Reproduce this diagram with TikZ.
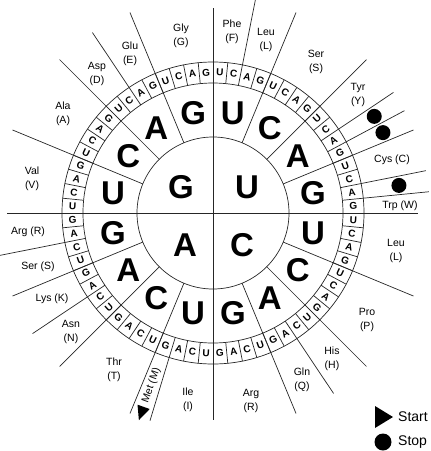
\documentclass[tikz,border=0pt]{standalone}
\usepackage{fontspec}
\setmainfont{Liberation Sans}
\begin{document}
\begin{tikzpicture}[x=1pt,y=-1pt,
  ln/.style={line width=0.7pt, draw=black!85},
  ringl/.style={font=\fontsize{10}{10}\selectfont\bfseries, inner sep=0pt},
  bigl/.style={font=\fontsize{33}{33}\selectfont\bfseries, inner sep=0pt},
  aa/.style={font=\fontsize{10.5}{14.5}\selectfont, align=center, inner sep=0pt},
  legend/.style={font=\fontsize{14}{14}\selectfont, anchor=west, inner sep=0pt}]
\useasboundingbox (0,0) rectangle (431,451);
\coordinate (O) at (213,213);
\draw[ln] (213,8) -- (213,420);
\draw[ln] (7,213) -- (418,213);
\begin{scope}[shift={(213,213)}]
  \draw[ln] (0,0) circle[radius=76pt];
  \draw[ln] (0,0) circle[radius=130pt];
  \draw[ln] (0,0) circle[radius=151pt];
  \foreach \t in {22.5,45,67.5,112.5,135,157.5,202.5,225,247.5,292.5,315,337.5}
    \draw[ln] (\t-90:76) -- (\t-90:217);
  \foreach \t in {11.25,56.25,61.875,78.75,84.375,146.25,196.875,236.25,258.75,326.25}
    \draw[ln] (\t-90:151) -- (\t-90:217);
  \foreach \k in {0,...,63}
    \draw[ln] (\k*5.625-90:130) -- (\k*5.625-90:151);
  \foreach \q in {0,...,15}{
    \foreach \c [count=\j from 0] in {U,C,A,G}{
      \pgfmathsetmacro\th{(4*\q+\j+0.5)*5.625}
      \pgfmathsetmacro\rot{-(\th-90*round(\th/90))}
      \node[ringl, rotate=\rot] (r\q\c) at (\th-90:140.5) {\c};
    }}
  \foreach \c [count=\i from 0] in {U,C,A,G,U,C,A,G,U,C,A,G,U,C,A,G}
    \node[bigl] (m\i) at (\i*22.5+11.25-90:102) {\c};
  \node[bigl] (cG) at (-32,-26) {G};
  \node[bigl] (cU) at (34,-26) {U};
  \node[bigl] (cA) at (-28,32) {A};
  \node[bigl] (cC) at (29,32) {C};
  \fill (59.0625-90:188) circle[radius=7.5pt];
  \fill (64.6875-90:188) circle[radius=7.5pt];
  \fill (81.5625-90:188) circle[radius=7.5pt];
  \node[font=\fontsize{10.5}{10.5}\selectfont, inner sep=0pt, rotate=70.3] (met) at (199.6875-90:183) {Met\ (M)};
  \fill (199.6875-90:220) -- (197.9-90:206) -- (201.5-90:206) -- cycle;
\end{scope}
\node[aa] (gly) at (181,36) {Gly\\(G)};
\node[aa] (phe) at (232,32) {Phe\\(F)};
\node[aa] (leu1) at (266,40) {Leu\\(L)};
\node[aa] (ser1) at (316,62) {Ser\\(S)};
\node[aa] (glu) at (130,54) {Glu\\(E)};
\node[aa] (asp) at (97,74) {Asp\\(D)};
\node[aa] (ala) at (63,114) {Ala\\(A)};
\node[aa] (val) at (32,179) {Val\\(V)};
\node[aa] (arg1) at (28,232) {Arg (R)};
\node[aa] (ser2) at (38,267) {Ser (S)};
\node[aa] (lys) at (52,299) {Lys (K)};
\node[aa] (asn) at (71,332) {Asn\\(N)};
\node[aa] (thr) at (114,370) {Thr\\(T)};
\node[aa] (ile) at (188,400) {Ile\\(I)};
\node[aa] (arg2) at (251,401) {Arg\\(R)};
\node[aa] (gln) at (302,380) {Gln\\(Q)};
\node[aa] (his) at (332,359) {His\\(H)};
\node[aa] (pro) at (367,320) {Pro\\(P)};
\node[aa] (leu2) at (396,251) {Leu\\(L)};
\node[aa] (trp) at (400,206) {Trp (W)};
\node[aa] (cys) at (392,160) {Cys (C)};
\node[aa] (tyr) at (358,95) {Tyr\\(Y)};
\fill (375,406) -- (393,417) -- (375,428) -- cycle;
\fill (383,442) circle[radius=8.5pt];
\node[legend] (start) at (398,417) {Start};
\node[legend] (stop) at (398,442) {Stop};
\end{tikzpicture}
\end{document}
